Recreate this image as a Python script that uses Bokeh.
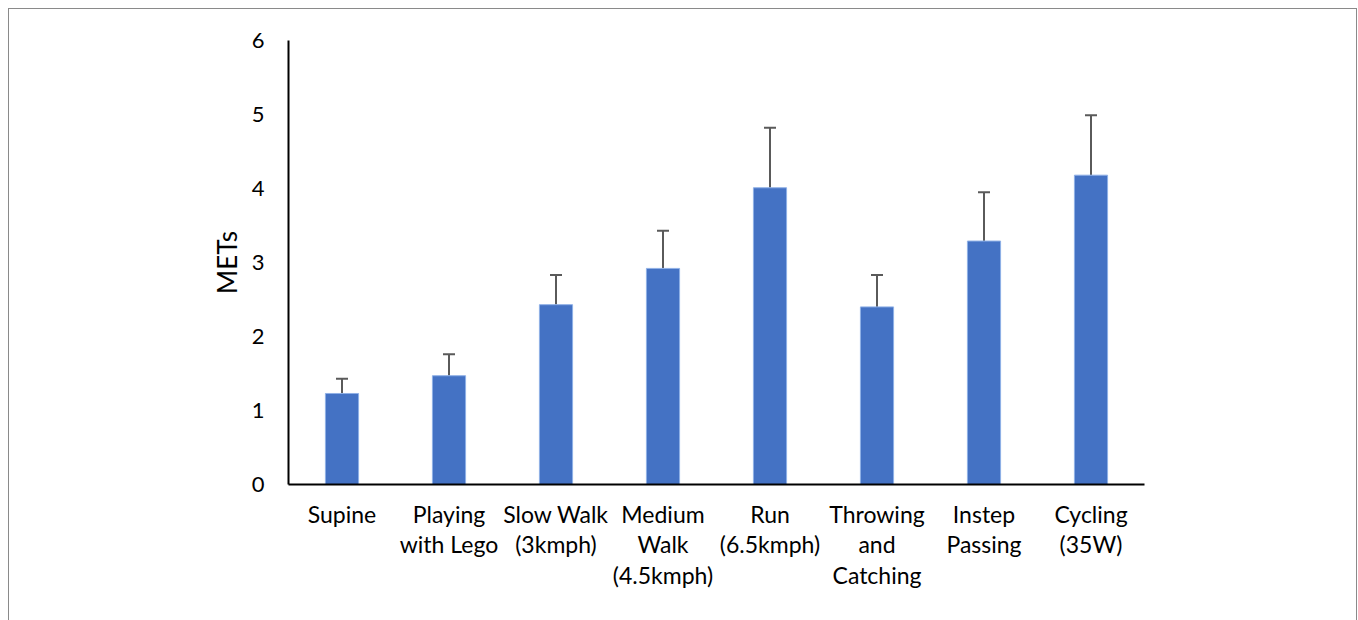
from bokeh.plotting import figure
from bokeh.models import ColumnDataSource, Whisker, TeeHead, FixedTicker, FactorRange
from bokeh.embed import file_html
from bokeh.resources import INLINE

categories = ["Supine", "Playing\nwith Lego", "Slow Walk\n(3kmph)", "Medium\nWalk\n(4.5kmph)",
              "Run\n(6.5kmph)", "Throwing\nand\nCatching", "Instep\nPassing", "Cycling\n(35W)"]
mets = [1.23, 1.47, 2.43, 2.92, 4.01, 2.40, 3.29, 4.18]
upper = [1.43, 1.76, 2.83, 3.43, 4.82, 2.83, 3.95, 4.99]
y_ticks = [0, 1, 2, 3, 4, 5, 6]

FONT = "Lato"

src = ColumnDataSource(dict(cat=categories, mets=mets, upper=upper))

p = figure(x_range=FactorRange(*categories), y_range=(0, 6), width=1349, height=612,
           output_backend="svg", toolbar_location=None,
           min_border_left=279, min_border_top=31, min_border_right=214, min_border_bottom=137)
p.margin = (8, 0, 0, 8)
p.styles = {"border-top": "1px solid #8a8a8a", "border-left": "1px solid #8a8a8a",
            "border-right": "1px solid #8a8a8a", "box-sizing": "border-box"}

p.vbar(x="cat", top="mets", width=0.31, source=src, fill_color="#4472C4",
       line_color="#8fb0e6", line_width=1)

w = Whisker(base="cat", lower="mets", upper="upper", source=src, dimension="height",
            line_color="#5a5a5a", line_width=2,
            upper_head=TeeHead(size=12, line_color="#5a5a5a", line_width=2), lower_head=None)
p.add_layout(w)

p.xgrid.visible = False
p.ygrid.visible = False
p.outline_line_color = None

for ax in (p.xaxis, p.yaxis):
    ax.axis_line_color = "black"
    ax.axis_line_width = 2
    ax.major_tick_line_color = None
    ax.minor_tick_line_color = None
    ax.major_label_text_font = FONT
    ax.major_label_text_color = "black"

p.yaxis.ticker = FixedTicker(ticks=y_ticks)
p.yaxis.major_label_text_font_size = "22px"
p.yaxis.major_label_standoff = 18
p.yaxis.axis_label = "METs"
p.yaxis.axis_label_text_font = FONT
p.yaxis.axis_label_text_font_size = "26px"
p.yaxis.axis_label_text_font_style = "normal"
p.yaxis.axis_label_text_color = "black"
p.yaxis.axis_label_standoff = 6

p.xaxis.major_label_text_font_size = "23px"
p.xaxis.major_label_standoff = 9
p.xaxis.major_label_text_line_height = 1.1
p.xaxis.major_label_orientation = "horizontal"

open("out.html", "w").write(file_html(p, INLINE))
